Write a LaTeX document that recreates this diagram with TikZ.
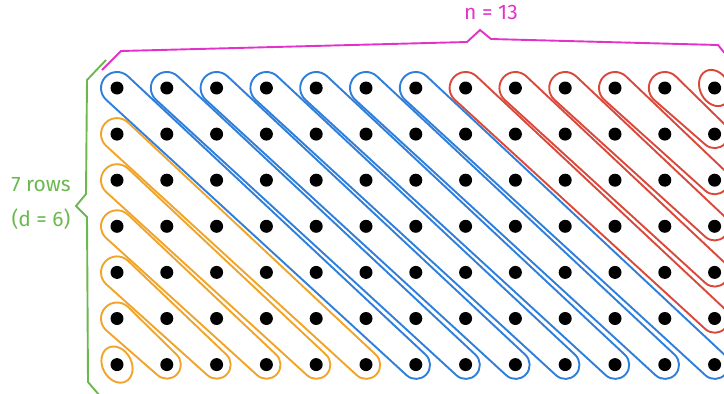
\documentclass[tikz,border=0pt]{standalone}
\usepackage{fontspec}
\setmainfont{Fira Sans}
\definecolor{cblue}{HTML}{2F7FDA}
\definecolor{corange}{HTML}{F0A52A}
\definecolor{cred}{HTML}{D9493B}
\definecolor{cmag}{HTML}{E233C9}
\definecolor{cgreen}{HTML}{6BB84F}
\newcommand{\dx}{49.8}
\newcommand{\dy}{46.1}
% diagonal loop: colour, start row, start col, number of dots
\newcommand{\diagloop}[4]{%
  \begin{scope}[shift={({117+\dx*#3},{-(88+\dy*#2)})}, rotate=-42.8]
    \pgfmathsetmacro{\loopL}{67.93*(#4-1)}
    \draw[loopline,#1] (0,-16) -- (\loopL,-14) arc (-90:90:14) -- (0,16) arc (90:270:16) -- cycle;
  \end{scope}}
\newcommand{\singleloop}[3]{%
  \begin{scope}[shift={({117+\dx*#3},{-(88+\dy*#2)})}, rotate=-62]
    \draw[loopline,#1] (0,0) ellipse [x radius=19, y radius=14.5];
  \end{scope}}
\begin{document}
\begin{tikzpicture}[x=1pt,y=1pt,
  dot/.style={circle,fill=black,inner sep=0pt,minimum size=13pt},
  loopline/.style={line width=1.9pt,line join=round},
  brace/.style={line width=1.9pt,line join=miter},
  lbl/.style={font=\fontsize{21}{23}\selectfont,inner sep=0pt}]
\useasboundingbox (0,0) rectangle (724,-394);
\clip (0,0) rectangle (724,-394);
% blue loops: 7 dots each
\foreach \k in {0,...,6}{\diagloop{cblue}{0}{\k}{7}}
% orange loops
\foreach \r in {1,...,5}{\pgfmathtruncatemacro{\nn}{7-\r}\diagloop{corange}{\r}{0}{\nn}}
\singleloop{corange}{6}{0}
% red loops
\foreach \k in {7,...,11}{\pgfmathtruncatemacro{\nn}{13-\k}\diagloop{cred}{0}{\k}{\nn}}
\singleloop{cred}{0}{12}
% dots
\foreach \r in {0,...,6}{
  \foreach \c in {0,...,12}{
    \node[dot] (d-\r-\c) at ({117+\dx*\c},{-(88+\dy*\r)}) {};
  }
}
% magenta brace
\draw[brace,cmag] (102,-70) -- (121,-51) -- (467,-42) -- (480,-30) -- (491,-39) -- (718,-45) -- (727,-56);
\node[lbl,text=cmag] (ntext) at (491,-12) {n = 13};
% green brace
\draw[brace,cgreen] (106,-60) -- (87,-80) -- (86,-194) -- (76,-206) -- (87,-217) -- (88,-382) -- (100,-396);
\node[lbl,text=cgreen] (rows) at (41,-185) {7 rows};
\node[lbl,text=cgreen] (dtext) at (41,-219) {(d = 6)};
\end{tikzpicture}
\end{document}
